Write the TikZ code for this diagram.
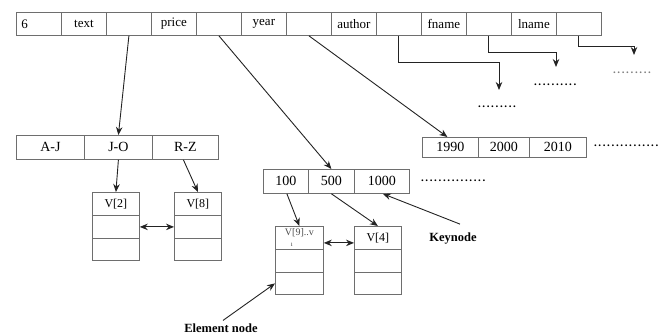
\documentclass[tikz,border=0pt]{standalone}
\usepackage{fontspec}
\setmainfont{Liberation Serif}
\usetikzlibrary{arrows.meta,calc}
\newcommand\fsz[1]{\fontsize{#1}{#1}\selectfont}
\newcommand\dotrow[1]{\hbox to #1pt{\leaders\hbox to 4.4pt{\hss\textbf{.}\hss}\hfill}}
\definecolor{boxc}{RGB}{110,110,110}
\definecolor{linec}{RGB}{35,35,35}
\begin{document}
\begin{tikzpicture}[x=1pt,y=-1pt,
  cell/.style={draw=boxc, line width=0.8pt, minimum width=45pt, minimum height=23pt, inner sep=0pt, anchor=north west, font=\fsz{13}},
  arr/.style={draw=linec, line width=0.9pt, -{Stealth[length=8pt,width=6.5pt]}},
  darr/.style={draw=linec, line width=0.9pt, {Stealth[length=8pt,width=6.5pt]}-{Stealth[length=8pt,width=6.5pt]}},
  dots/.style={inner sep=0pt, font=\fsz{11}},
  lbl/.style={font=\fsz{12.5}\bfseries, inner sep=0pt}]
\useasboundingbox (0,0) rectangle (668,335);
% top row
\node[cell, text width=35pt, align=left] (t1) at (16,12) {6};
\foreach \i/\t in {2/text,3/,4/price,5/,6/year,7/,8/author,9/,10/fname,11/,12/lname,13/}
  \node[cell] (t\i) at ({16+45*(\i-1)},12) {\t};
% second row
\node[cell, minimum width=68pt, minimum height=24pt, font=\fsz{14}] (aj) at (16,135) {A-J};
\node[cell, minimum width=68pt, minimum height=24pt, font=\fsz{14}] (jo) at (84,135) {J-O};
\node[cell, minimum width=66pt, minimum height=24pt, font=\fsz{14}] (rz) at (152,135) {R-Z};
% years
\node[cell, minimum width=56pt, minimum height=20pt, font=\fsz{14}] (y1990) at (422,137) {1990};
\node[cell, minimum width=51pt, minimum height=20pt, font=\fsz{14}] (y2000) at (478,137) {2000};
\node[cell, minimum width=57pt, minimum height=20pt, font=\fsz{14}] (y2010) at (529,137) {2010};
% key node
\node[cell, minimum width=45pt, minimum height=24pt, font=\fsz{14}] (k100) at (263,169) {100};
\node[cell, minimum width=46pt, minimum height=24pt, font=\fsz{14}] (k500) at (308,169) {500};
\node[cell, minimum width=55pt, minimum height=24pt, font=\fsz{14}] (k1000) at (354,169) {1000};
% element boxes
\foreach \n/\x/\y/\t in {v2/92/192/{V[2]}, v8/174/192/{V[8]}, v4/354/226/{V[4]}}{
  \node[cell, minimum width=47pt, font=\fsz{12}] (\n a) at (\x,\y) {\t};
  \node[cell, minimum width=47pt] (\n b) at (\x,\y+23) {};
  \node[cell, minimum width=47pt, minimum height=22pt] (\n c) at (\x,\y+46) {};
}
\node[cell, minimum width=48pt, font=\fsz{10}, text=black!70, align=left] (v9a) at (275,226) {V[9]..v\\[1pt]\hspace{6pt}{\fsz{7}ı}};
\node[cell, minimum width=48pt] (v9b) at (275,249) {};
\node[cell, minimum width=48pt, minimum height=22pt] (v9c) at (275,272) {};
% dots
\node[dots, anchor=west] (d1) at (477,107) {\dotrow{40}};
\node[dots, anchor=west] (d2) at (533,85) {\dotrow{45}};
\node[dots, anchor=west, text=black!50] (d3) at (612,73) {\dotrow{41}};
\node[dots, anchor=west] (d4) at (420,181) {\dotrow{68}};
\node[dots, anchor=west] (d5) at (593,146) {\dotrow{69}};
% labels
\node[lbl] (kn) at (453,239) {Keynode};
\node[lbl] (en) at (221,328) {Element node};
% free ends
\coordinate (e1) at (499,90);
\coordinate (e2) at (556,67);
\coordinate (e3) at (634,55);
% connectors
\draw[arr] (t3.south) -- (jo.north);
\draw[arr] (t5.south) -- (k500.north);
\draw[arr] (t7.south) -- ($(y1990.north)+(-3,0)$);
\draw[arr] (t9.south) -- ++(0,27) -| (e1);
\draw[arr] (t11.south) -- ++(0,17) -| (e2);
\draw[arr] (t13.south) -- ++(0,11) -| (e3);
\draw[arr] (jo.south) -- (v2a.north);
\draw[arr] ($(rz.south)+(-2,0)$) -- (v8a.north);
\draw[darr] (v2b.east) -- (v8b.west);
\draw[arr] ($(k100.south)+(1,0)$) -- (v9a.north);
\draw[arr] (k500.south) -- (v4a.north);
\draw[darr] ($(v9a.east)+(0,5)$) -- ($(v4a.west)+(0,5)$);
\draw[arr] ($(kn.north)+(7,-9)$) -- ($(k1000.south)+(1,0)$);
\draw[arr] ($(en.north)+(2,-3)$) -- (v9c.west);
\end{tikzpicture}
\end{document}
